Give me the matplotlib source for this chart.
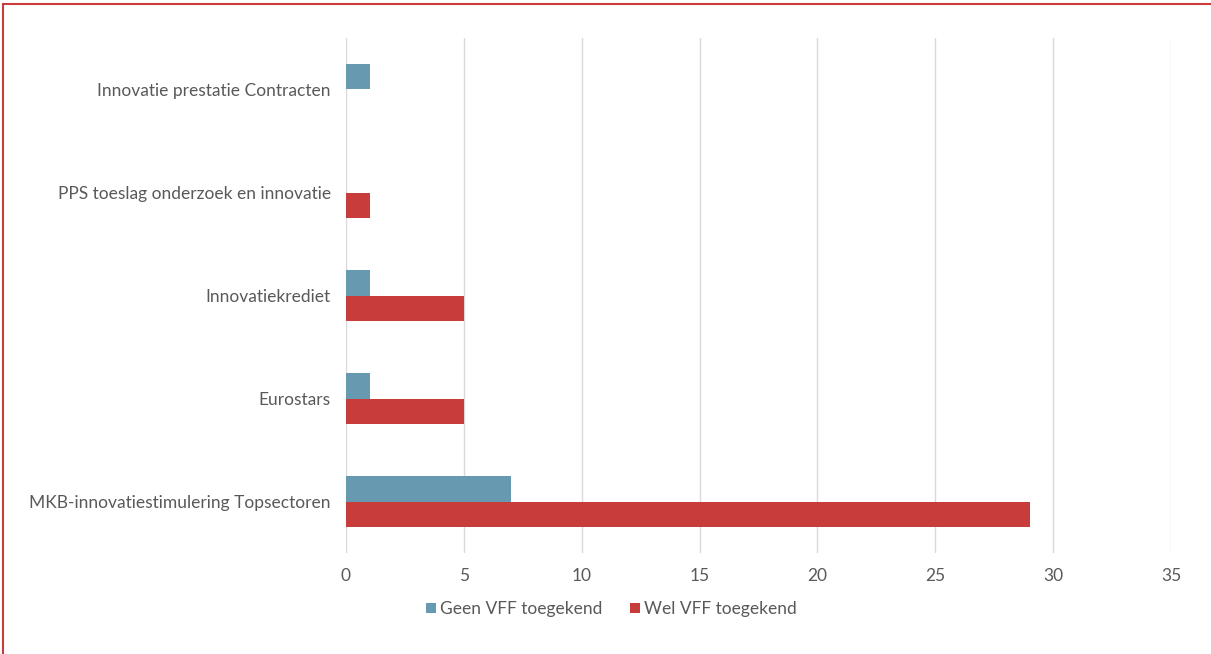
import matplotlib.pyplot as plt
import numpy as np

categories = ['MKB-innovatiestimulering Topsectoren', 'Eurostars', 'Innovatiekrediet',
              'PPS toeslag onderzoek en innovatie', 'Innovatie prestatie Contracten']
geen_vff = [7, 1, 1, 0, 1]
wel_vff = [29, 5, 5, 1, 0]

blue = '#6799B0'
red = '#C83C3C'
grey = '#595959'

plt.rcParams['font.family'] = ['Lato', 'DejaVu Sans']

fig = plt.figure(figsize=(12.11, 6.54), dpi=100)
ax = fig.add_axes([0.2857, 0.1544, 0.967 - 0.2857, 0.9419 - 0.1544])

y = np.arange(len(categories))
h = 0.25
ax.barh(y + h / 2, geen_vff, height=h, color=blue, label='Geen VFF toegekend')
ax.barh(y - h / 2, wel_vff, height=h, color=red, label='Wel VFF toegekend')

ax.set_xlim(0, 35)
ax.set_ylim(-0.5, len(categories) - 0.5)
ax.set_xticks(range(0, 36, 5))
ax.set_yticks(y)
ax.set_yticklabels(categories)
ax.xaxis.grid(True, color='#D9D9D9', linewidth=1)
ax.set_axisbelow(True)
for s in ax.spines.values():
    s.set_visible(False)
ax.tick_params(axis='both', length=0, labelsize=12.5, labelcolor=grey)
ax.tick_params(axis='y', pad=11)
ax.tick_params(axis='x', pad=11)

leg = fig.legend(loc='center', bbox_to_anchor=(0.505, 1 - 609 / 654), ncol=2, frameon=False,
                 fontsize=12.5, handlelength=0.55, handleheight=0.55, handletextpad=0.25,
                 columnspacing=1.6)
for t in leg.get_texts():
    t.set_color(grey)

# red frame lines (top and left)
fig.add_artist(plt.Line2D([3 / 1211, 1], [1 - 4 / 654, 1 - 4 / 654], color=red, lw=1.5,
                          transform=fig.transFigure))
fig.add_artist(plt.Line2D([3 / 1211, 3 / 1211], [0, 1 - 4 / 654], color=red, lw=1.5,
                          transform=fig.transFigure))

fig.savefig('out.png', dpi=100)
